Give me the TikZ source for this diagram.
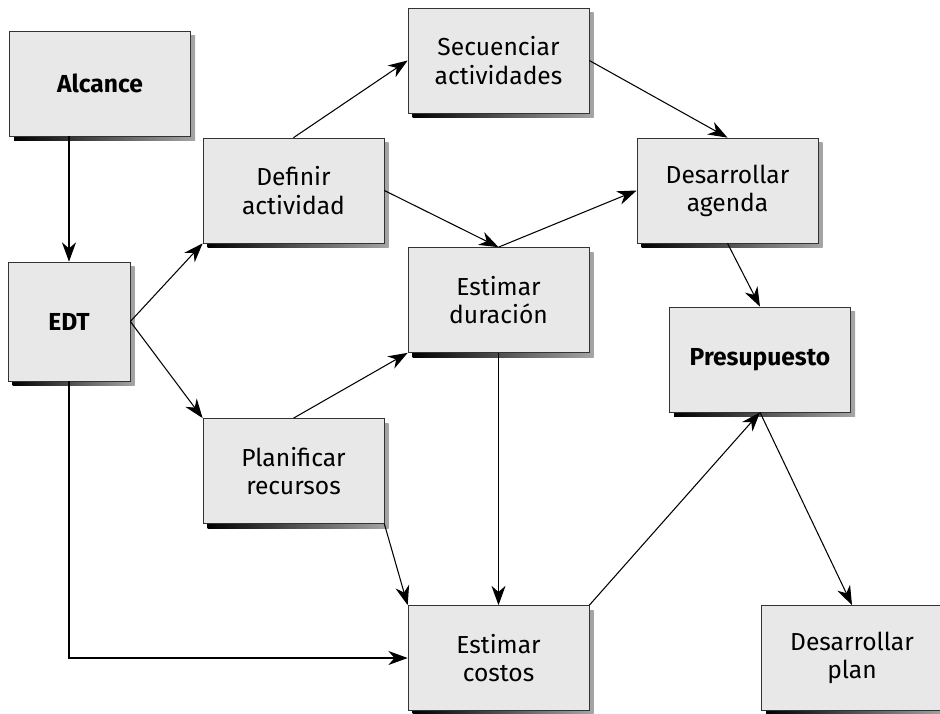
\documentclass[tikz,border=0pt]{standalone}
\usepackage{fontspec}
\setmainfont{Fira Sans}
\usetikzlibrary{arrows.meta,shadows}
\begin{document}
\begin{tikzpicture}[
  every node/.style={font=\fontsize{14}{16}\selectfont},
  box/.style={draw=black!80,fill=black!9,align=center,
    minimum width=3.62cm,minimum height=2.1cm,
    general shadow={shadow xshift=.09cm,shadow yshift=-.09cm,
      left color=black,right color=black!35}},
  key/.style={box,font=\fontsize{14}{16}\selectfont\bfseries},
  arr/.style={-{Stealth[length=11pt,width=8pt,inset=3.5pt]},line width=.6pt}]
\path[use as bounding box,clip] (0,0) rectangle (18.8,-14.26);
\node[key] (alcance) at (2.0,-1.67) {Alcance};
\node[key,minimum width=2.44cm,minimum height=2.38cm] (edt) at (1.38,-6.43) {EDT};
\node[box] (definir) at (5.87,-3.81) {Definir\\actividad};
\node[box] (secuenciar) at (9.97,-1.21) {Secuenciar\\actividades};
\node[box] (duracion) at (9.97,-6.0) {Estimar\\duración};
\node[box] (agenda) at (14.55,-3.81) {Desarrollar\\agenda};
\node[key] (presupuesto) at (15.2,-7.19) {Presupuesto};
\node[box] (planificar) at (5.87,-9.42) {Planificar\\recursos};
\node[box] (costos) at (9.97,-13.16) {Estimar\\costos};
\node[box] (plan) at (17.04,-13.16) {Desarrollar\\plan};
% flechas
\draw[arr] (alcance.south -| edt) -- (edt);
\draw[arr] (edt.east) -- (definir.south west);
\draw[arr] (edt.east) -- (planificar.north west);
\draw[arr] (edt.south) |- (costos.west);
\draw[arr] (definir.north) -- (secuenciar.west);
\draw[arr] (secuenciar.east) -- (agenda.north);
\draw[arr] (definir.east) -- (duracion.north);
\draw[arr] (duracion.north) -- (agenda.west);
\draw[arr] (agenda.south) -- (presupuesto.north);
\draw[arr] (planificar.north) -- (duracion.south west);
\draw[arr] (duracion.south) -- (costos.north);
\draw[arr] (planificar.south east) -- (costos.north west);
\draw[arr] (costos.north east) -- (presupuesto.south);
\draw[arr] (presupuesto.south) -- (plan.north);
\end{tikzpicture}
\end{document}
